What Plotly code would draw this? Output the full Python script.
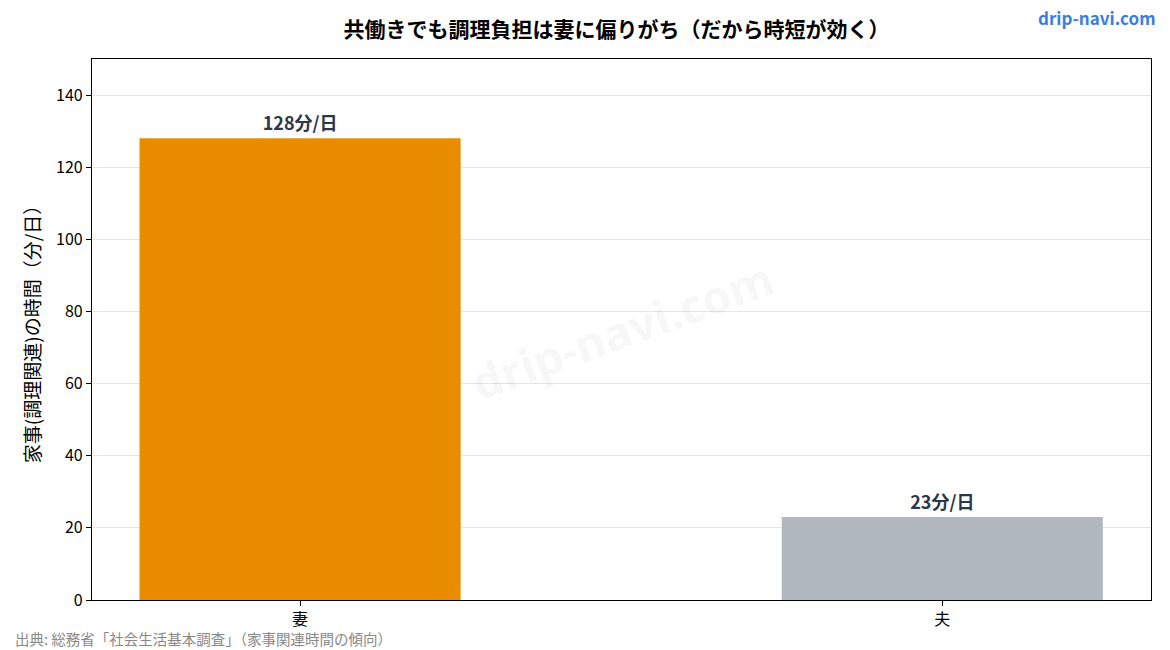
import plotly.graph_objects as go

categories = ["妻", "夫"]
values = [128, 23]
labels = ["128分/日", "23分/日"]
colors = ["#EA8C00", "#B0B7BF"]

FONT = "Noto Sans CJK JP"

# plot area in pixels (for placing paper-referenced annotations)
L, R, T, B = 92, 1151, 59, 600
W, H = R - L, B - T

def px(x):
    return (x - L) / W

def py(y):
    return (B - y) / H

fig = go.Figure()
fig.add_trace(go.Bar(
    x=categories, y=values, marker=dict(color=colors, line=dict(width=0)),
    width=0.5, text=["<b>" + s + "</b>" for s in labels], textposition="outside",
    textfont=dict(family=FONT, size=18, color="#2D3748"),
    cliponaxis=False, hoverinfo="skip",
))

fig.update_layout(
    width=1170, height=650,
    margin=dict(l=L, r=1170 - R, t=T, b=650 - B),
    paper_bgcolor="white", plot_bgcolor="white",
    font=dict(family=FONT, color="#000"),
    showlegend=False,
    title=dict(text="<b>共働きでも調理負担は妻に偏りがち（だから時短が効く）</b>",
               x=0.527, xanchor="center", y=0.955, yanchor="middle",
               font=dict(family=FONT, size=21, color="#000")),
    xaxis=dict(range=[-0.324, 1.325], showline=True, linecolor="#000", linewidth=1.2,
               mirror=True, ticks="outside", ticklen=5, tickcolor="#000",
               tickfont=dict(family=FONT, size=16, color="#000"), showgrid=False),
    yaxis=dict(range=[0, 150], tickvals=[0, 20, 40, 60, 80, 100, 120, 140],
               showline=True, linecolor="#000", linewidth=1.2, mirror=True,
               ticks="outside", ticklen=5, tickcolor="#000",
               tickfont=dict(family=FONT, size=16, color="#000"),
               gridcolor="#E6E6E6", gridwidth=1, zeroline=False,
               title=dict(text="家事(調理関連)の時間（分/日）", standoff=10,
                          font=dict(family=FONT, size=19, color="#000"))),
)

fig.add_annotation(text="<b>drip-navi.com</b>", xref="paper", yref="paper",
                   x=px(622), y=py(330), showarrow=False, textangle=-20,
                   font=dict(family="Open Sans", size=46, color="rgba(0,0,0,0.05)"))
fig.add_annotation(text="<b>drip-navi.com</b>", xref="paper", yref="paper",
                   x=px(1158), y=py(18), xanchor="right", yanchor="middle", showarrow=False,
                   font=dict(family=FONT, size=17, color="#3B7DDD"))
fig.add_annotation(text="出典: 総務省「社会生活基本調査」（家事関連時間の傾向）", xref="paper", yref="paper",
                   x=px(13), y=py(638), xanchor="left", yanchor="middle", showarrow=False,
                   font=dict(family=FONT, size=14.5, color="#888"))

fig.write_html("out.html")
